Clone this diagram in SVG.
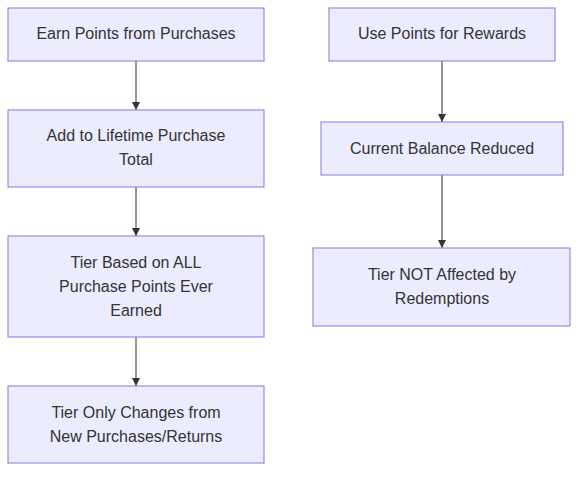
<svg xmlns="http://www.w3.org/2000/svg" width="586" height="478" viewBox="0 0 586 478">
<style>
.n rect{fill:#ECECFF;stroke:#9370DB;stroke-width:1}
.n text{font-family:"Liberation Sans",Arial,sans-serif;font-size:16px;fill:#333;text-anchor:middle}
.e path{stroke:#333;stroke-width:1;fill:none;marker-end:url(#ah)}
</style>
<defs>
<marker id="ah" viewBox="0 0 10 10" refX="10" refY="5" markerWidth="8" markerHeight="8" markerUnits="userSpaceOnUse" orient="auto"><path d="M0,0 L10,5 L0,10 z" fill="#333"/></marker>
</defs>
<rect width="586" height="478" fill="#fff"/>
<g id="edges" class="e">
<path d="M136,61 V110"/>
<path d="M136,187 V236"/>
<path d="M136,337 V386"/>
<path d="M442,61 V122"/>
<path d="M442,175 V248"/>
</g>
<g id="n1" class="n"><rect x="8" y="8" width="256" height="53"/><text x="136" y="39">Earn Points from Purchases</text></g>
<g id="n2" class="n"><rect x="8" y="110" width="256" height="77"/><text x="136" y="141">Add to Lifetime Purchase</text><text x="136" y="165">Total</text></g>
<g id="n3" class="n"><rect x="8" y="236" width="256" height="101"/><text x="136" y="268">Tier Based on ALL</text><text x="136" y="292">Purchase Points Ever</text><text x="136" y="316">Earned</text></g>
<g id="n4" class="n"><rect x="8" y="386" width="256" height="77"/><text x="136" y="418">Tier Only Changes from</text><text x="136" y="442">New Purchases/Returns</text></g>
<g id="n5" class="n"><rect x="329" y="8" width="226" height="53"/><text x="442" y="39">Use Points for Rewards</text></g>
<g id="n6" class="n"><rect x="321" y="122" width="242" height="53"/><text x="442" y="154">Current Balance Reduced</text></g>
<g id="n7" class="n"><rect x="313" y="248" width="257" height="78"/><text x="442" y="280">Tier NOT Affected by</text><text x="442" y="304">Redemptions</text></g>
</svg>
